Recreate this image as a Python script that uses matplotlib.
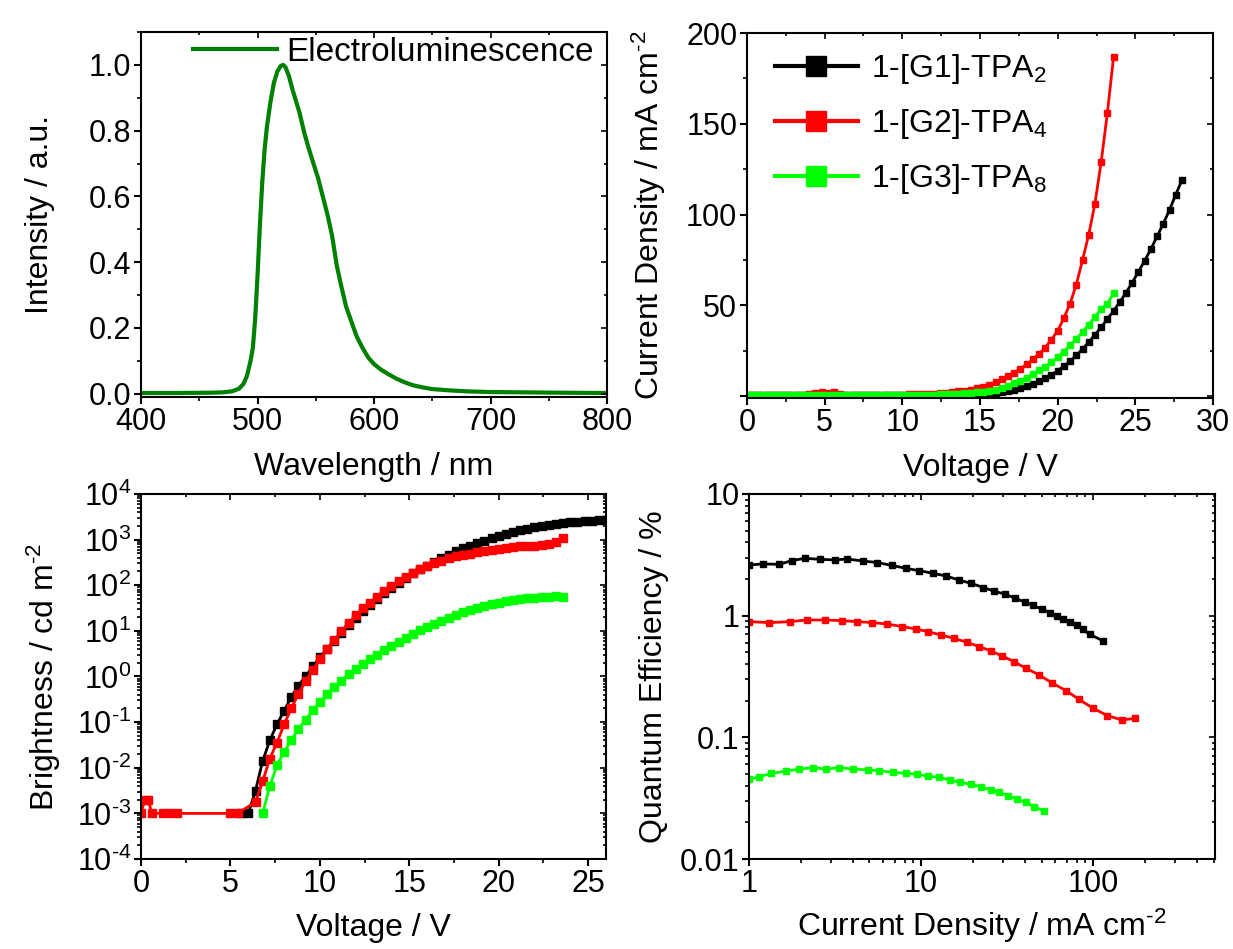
import numpy as np
import matplotlib
matplotlib.use('Agg')
import matplotlib.pyplot as plt
from matplotlib.ticker import MultipleLocator, FuncFormatter, LogLocator, NullFormatter
from matplotlib.lines import Line2D

plt.rcParams['font.family'] = ['Liberation Sans', 'DejaVu Sans']
plt.rcParams['mathtext.fontset'] = 'custom'
plt.rcParams['mathtext.rm'] = 'Liberation Sans'
plt.rcParams['mathtext.it'] = 'Liberation Sans:italic'
plt.rcParams['mathtext.bf'] = 'Liberation Sans:bold'
plt.rcParams['mathtext.default'] = 'regular'

HY = '\u2010'  # short hyphen, as in the original exponents

# --- electroluminescence spectrum ---
wavelength = [400, 430, 460, 470, 478, 484, 488, 491, 494, 496, 498, 500, 502, 504, 506, 508,
              511, 514, 517, 520, 522, 524, 527, 530, 533, 536, 540, 544, 548, 552, 556, 560,
              564, 568, 572, 576, 580, 585, 590, 595, 600, 606, 612, 619, 626, 634, 642, 650,
              665, 680, 700, 730, 760, 800]
el_intensity = [0.002, 0.002, 0.003, 0.004, 0.007, 0.015, 0.03, 0.055, 0.10, 0.14, 0.23, 0.36,
                0.51, 0.64, 0.74, 0.81, 0.885, 0.945, 0.98, 0.997, 1.0, 0.993, 0.965, 0.925,
                0.89, 0.855, 0.795, 0.745, 0.70, 0.655, 0.60, 0.545, 0.48, 0.39, 0.325, 0.265,
                0.225, 0.175, 0.14, 0.11, 0.09, 0.073, 0.06, 0.046, 0.035, 0.025, 0.019, 0.014,
                0.010, 0.007, 0.005, 0.004, 0.003, 0.002]

# --- voltage sweep (V) ---
v_sweep = [0.0, 0.4, 0.8, 1.2, 1.6, 2.0, 2.4, 2.8, 3.2, 3.6,
           4.0, 4.4, 4.8, 5.2, 5.6, 6.0, 6.4, 6.8, 7.2, 7.6,
           8.0, 8.4, 8.8, 9.2, 9.6, 10.0, 10.4, 10.8, 11.2, 11.6,
           12.0, 12.4, 12.8, 13.2, 13.6, 14.0, 14.4, 14.8, 15.2, 15.6,
           16.0, 16.4, 16.8, 17.2, 17.6, 18.0, 18.4, 18.8, 19.2, 19.6,
           20.0, 20.4, 20.8, 21.2, 21.6, 22.0, 22.4, 22.8, 23.2, 23.6,
           24.0, 24.4, 24.8, 25.2, 25.6, 26.0, 26.4, 26.8, 27.2, 27.6, 28.0]

names = ['1-[G1]-TPA$_2$', '1-[G2]-TPA$_4$', '1-[G3]-TPA$_8$']
colors = ['#000000', '#ff0000', '#00ff00']

# current density (mA cm-2)
j_g1 = [0.5, 0.5, 0.5, 0.5, 0.5, 0.5, 0.5, 0.5, 0.5, 0.5,
        0.5, 0.5, 0.5, 0.5, 0.5, 0.5, 0.5, 0.5, 0.5, 0.5,
        0.5, 0.5, 0.5, 0.5, 0.5, 0.5, 0.5, 0.5, 0.5, 0.5,
        0.5, 0.6, 0.6, 0.7, 0.7, 0.8, 0.9, 1.0, 1.2, 1.4,
        1.8, 2.2, 2.8, 3.5, 4.3, 5.4, 6.7, 8.2, 9.9, 11.8,
        14.0, 16.6, 19.3, 22.5, 26.0, 29.8, 33.8, 38.0, 42.5, 47.0,
        51.9, 57.0, 62.6, 68.5, 74.6, 81.0, 88.0, 95.0, 102.6, 111.0, 119.0]
j_g2 = [0.7, 0.7, 0.7, 0.7, 0.7, 0.7, 0.7, 0.7, 0.7, 0.8,
        1.0, 1.6, 2.2, 1.8, 2.2, 1.3, 0.9, 0.9, 0.9, 0.9,
        0.9, 0.9, 0.9, 0.9, 0.9, 0.9, 1.0, 1.0, 1.1, 1.2,
        1.4, 1.6, 1.9, 2.2, 2.6, 3.0, 3.6, 4.3, 5.0, 6.3,
        7.6, 9.2, 11.0, 13.0, 15.1, 17.5, 20.3, 23.3, 26.8, 31.2,
        36.0, 43.0, 51.0, 61.5, 75.0, 89.0, 106.0, 129.0, 156.0, 187.0]
j_g3 = [0.5, 0.5, 0.5, 0.5, 0.5, 0.5, 0.5, 0.5, 0.5, 0.5,
        0.5, 0.5, 0.5, 0.5, 0.5, 0.5, 0.5, 0.5, 0.5, 0.5,
        0.5, 0.5, 0.5, 0.5, 0.5, 0.5, 0.6, 0.6, 0.7, 0.8,
        0.9, 1.0, 1.1, 1.3, 1.4, 1.6, 1.8, 2.1, 2.5, 3.0,
        3.6, 4.5, 5.6, 7.0, 8.4, 10.2, 12.2, 14.3, 16.2, 18.7,
        21.5, 24.6, 28.0, 31.6, 35.4, 39.4, 43.8, 48.0, 51.0, 56.7]

# brightness, log10(cd m-2)
lv_g1_v = v_sweep[14:]
lv_g1_log = [-3.0, -3.0, -2.5, -1.85, -1.4, -1.05, -0.75, -0.45, -0.2, 0.0,
             0.22, 0.42, 0.6, 0.78, 0.95, 1.12, 1.28, 1.43, 1.57, 1.70,
             1.82, 1.94, 2.05, 2.16, 2.26, 2.35, 2.43, 2.51, 2.59, 2.67,
             2.74, 2.81, 2.87, 2.92, 2.98, 3.03, 3.08, 3.13, 3.17, 3.21,
             3.24, 3.27, 3.30, 3.33, 3.35, 3.37, 3.38, 3.39, 3.40, 3.41,
             3.42, 3.43, 3.44, 3.45, 3.46, 3.46, 3.47]
lv_g2_v = [0.0, 0.2, 0.4, 0.6, 1.2, 1.6, 2.0, 5.0, 5.4, 6.4] + v_sweep[17:60]
lv_g2_log = [-3.0, -2.7, -2.7, -3.0, -3.0, -3.0, -3.0, -3.0, -3.0, -2.75,
             -2.3, -1.8, -1.45, -1.05, -0.7, -0.38, -0.1, 0.14, 0.38, 0.6,
             0.8, 0.99, 1.17, 1.34, 1.49, 1.62, 1.75, 1.87, 1.98, 2.09,
             2.18, 2.27, 2.35, 2.42, 2.48, 2.54, 2.59, 2.63, 2.66, 2.69,
             2.72, 2.75, 2.77, 2.79, 2.81, 2.83, 2.85, 2.86, 2.87, 2.89,
             2.91, 2.94, 3.03]
lv_g3_v = v_sweep[17:60]
lv_g3_log = [-3.0, -2.4, -1.95, -1.65, -1.4, -1.15, -0.95, -0.74, -0.55, -0.38,
             -0.23, -0.09, 0.05, 0.17, 0.28, 0.38, 0.48, 0.58, 0.67, 0.76,
             0.85, 0.93, 1.01, 1.08, 1.15, 1.22, 1.29, 1.35, 1.41, 1.46,
             1.51, 1.55, 1.59, 1.62, 1.65, 1.67, 1.69, 1.71, 1.73, 1.74,
             1.75, 1.76, 1.74]

# external quantum efficiency (%) vs current density
eqe_g1_j = [1.0, 1.21, 1.50, 1.77, 2.11, 2.58, 3.16, 3.72, 4.61, 5.56, 6.74, 8.13, 9.76,
            11.7, 13.9, 16.6, 19.6, 23.0, 26.6, 30.7, 35.2, 40.1, 44.4, 50.1, 56.0, 61.2,
            66.9, 73.2, 80.0, 86.7, 95.7, 114]
eqe_g1 = [2.61, 2.66, 2.64, 2.83, 2.96, 2.90, 2.87, 2.92, 2.81, 2.73, 2.59, 2.45, 2.34,
          2.23, 2.12, 1.96, 1.84, 1.70, 1.59, 1.50, 1.39, 1.29, 1.22, 1.13, 1.06, 0.99,
          0.94, 0.89, 0.84, 0.77, 0.70, 0.62]
eqe_g2_j = [1.0, 1.31, 1.73, 2.16, 2.76, 3.45, 4.26, 5.21, 6.30, 7.78, 9.29, 11.0, 13.0,
            15.6, 18.4, 21.8, 25.4, 29.6, 34.6, 40.6, 48.6, 57.3, 69.4, 82.6, 100, 120.6,
            146, 175]
eqe_g2 = [0.893, 0.876, 0.893, 0.921, 0.921, 0.910, 0.893, 0.876, 0.855, 0.813, 0.777,
          0.738, 0.693, 0.651, 0.604, 0.556, 0.513, 0.466, 0.419, 0.369, 0.325, 0.281,
          0.242, 0.205, 0.173, 0.151, 0.139, 0.143]
eqe_g3_j = [1.0, 1.15, 1.35, 1.64, 1.96, 2.34, 2.80, 3.35, 4.04, 4.89, 5.71, 6.83, 8.13,
            9.42, 10.9, 12.7, 14.7, 16.8, 19.4, 22.2, 25.3, 28.5, 32.1, 35.9, 40.5, 45.4, 51.7]
eqe_g3 = [0.0452, 0.0475, 0.0506, 0.0528, 0.0549, 0.0563, 0.0549, 0.0563, 0.0549, 0.0540,
          0.0532, 0.0516, 0.0506, 0.0497, 0.0481, 0.0469, 0.0446, 0.0427, 0.0411, 0.0393,
          0.0369, 0.0353, 0.0330, 0.0311, 0.0292, 0.0269, 0.0248]

TICK_FS = 22
LABEL_FS = 23
UNIT = 'mA cm$^{' + HY + '2}$'


def style(ax):
    for s in ax.spines.values():
        s.set_linewidth(1.5)
    ax.tick_params(which='major', direction='out', length=5, width=1.5, labelsize=TICK_FS, pad=2)
    ax.tick_params(which='minor', direction='out', length=3, width=1.2)
    # mirrored inward ticks on top and right
    tw = ax.figure.add_axes(ax.get_position(), sharex=ax, sharey=ax, frameon=False)
    tw.patch.set_visible(False)
    tw.tick_params(which='both', direction='in', top=True, right=True, bottom=False, left=False,
                   labelbottom=False, labelleft=False, width=1.2)
    tw.tick_params(which='major', length=4)
    tw.tick_params(which='minor', length=2.5)
    return tw


def pow10(v, p):
    e = int(round(np.log10(v)))
    s = str(e).replace('-', HY)
    return '10$^{' + s + '}$'


fig = plt.figure(figsize=(12.33, 9.49), dpi=100)
ax1 = fig.add_axes([0.1144, 0.5817, 0.3779, 0.3846])
ax2 = fig.add_axes([0.6058, 0.5806, 0.3780, 0.3846])
ax3 = fig.add_axes([0.1144, 0.0948, 0.3771, 0.3847])
ax4 = fig.add_axes([0.6075, 0.0948, 0.3780, 0.3847])

# panel 1
ax1.plot(wavelength, el_intensity, color='#008000', lw=3, label='Electroluminescence')
ax1.set_xlim(400, 800)
ax1.set_ylim(-0.01, 1.1)
ax1.xaxis.set_major_locator(MultipleLocator(100))
ax1.xaxis.set_minor_locator(MultipleLocator(50))
ax1.yaxis.set_major_locator(MultipleLocator(0.2))
ax1.yaxis.set_minor_locator(MultipleLocator(0.1))
ax1.yaxis.set_major_formatter(FuncFormatter(lambda v, p: '%.1f' % v))
ax1.set_xlabel('Wavelength / nm', fontsize=LABEL_FS, labelpad=11)
ax1.set_ylabel('Intensity / a.u.', fontsize=LABEL_FS, labelpad=24)
ax1.legend(loc='center left', bbox_to_anchor=(0.112, 0.945), frameon=False, fontsize=24,
           handlelength=2.5, handletextpad=0.3, borderpad=0, borderaxespad=0)
style(ax1)

# panel 2
for v_len, j, c in zip([71, 60, 60], [j_g1, j_g2, j_g3], colors):
    ax2.plot(v_sweep[:v_len], j, color=c, lw=2, marker='s', ms=5)
ax2.set_xlim(0, 30)
ax2.set_ylim(-1, 200)
ax2.xaxis.set_major_locator(MultipleLocator(5))
ax2.xaxis.set_minor_locator(MultipleLocator(2.5))
ax2.yaxis.set_major_locator(MultipleLocator(50))
ax2.yaxis.set_minor_locator(MultipleLocator(25))
ax2.yaxis.set_major_formatter(FuncFormatter(lambda v, p: '' if v <= 0 else '%d' % v))
ax2.set_xlabel('Voltage / V', fontsize=LABEL_FS, labelpad=11)
ax2.set_ylabel('Current Density / ' + UNIT, fontsize=LABEL_FS, labelpad=13)
handles = [Line2D([], [], color=c, lw=3, marker='s', ms=15) for c in colors]
ax2.legend(handles, names, loc='center left', bbox_to_anchor=(0.06, 0.75), frameon=False,
           fontsize=23, handlelength=2.6, handletextpad=0.4, labelspacing=0.66,
           borderpad=0, borderaxespad=0)
style(ax2)

# panel 3
for v, lg, c in zip([lv_g1_v, lv_g2_v, lv_g3_v], [lv_g1_log, lv_g2_log, lv_g3_log], colors):
    ax3.plot(v, 10 ** np.array(lg), color=c, lw=2, marker='s', ms=5.5)
ax3.set_yscale('log')
ax3.set_xlim(0, 26)
ax3.set_ylim(1e-4, 1e4)
ax3.xaxis.set_major_locator(MultipleLocator(5))
ax3.xaxis.set_minor_locator(MultipleLocator(2.5))
ax3.yaxis.set_major_locator(LogLocator(base=10, numticks=20))
ax3.yaxis.set_minor_locator(LogLocator(base=10, subs=np.arange(2, 10), numticks=20))
ax3.yaxis.set_major_formatter(FuncFormatter(pow10))
ax3.yaxis.set_minor_formatter(NullFormatter())
ax3.set_xlabel('Voltage / V', fontsize=LABEL_FS, labelpad=10)
ax3.set_ylabel('Brightness / cd m$^{' + HY + '2}$', fontsize=LABEL_FS, labelpad=10)
style(ax3)

# panel 4
for jj, q, c in zip([eqe_g1_j, eqe_g2_j, eqe_g3_j], [eqe_g1, eqe_g2, eqe_g3], colors):
    ax4.plot(jj, q, color=c, lw=2, marker='s', ms=5)
ax4.set_xscale('log')
ax4.set_yscale('log')
ax4.set_xlim(1, 510)
ax4.set_ylim(0.01, 10)
for axis in (ax4.xaxis, ax4.yaxis):
    axis.set_major_locator(LogLocator(base=10, numticks=20))
    axis.set_minor_locator(LogLocator(base=10, subs=np.arange(2, 10), numticks=20))
    axis.set_major_formatter(FuncFormatter(lambda v, p: '%g' % v))
    axis.set_minor_formatter(NullFormatter())
ax4.set_xlabel('Current Density / ' + UNIT, fontsize=LABEL_FS, labelpad=6)
ax4.set_ylabel('Quantum Efficiency / %', fontsize=LABEL_FS, labelpad=8)
style(ax4)

fig.savefig('out.png', dpi=100)
